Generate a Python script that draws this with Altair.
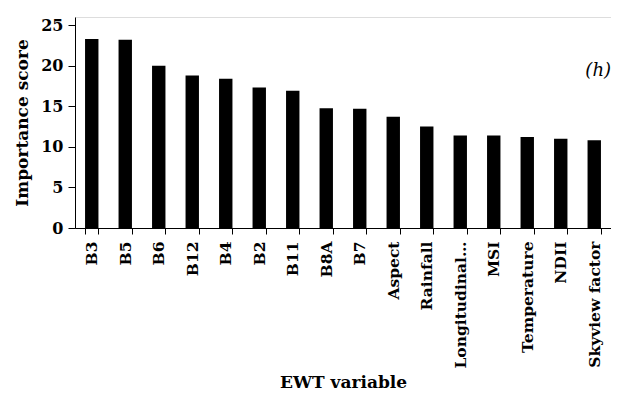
import altair as alt
import pandas as pd

variables = ["B3", "B5", "B6", "B12", "B4", "B2", "B11", "B8A", "B7", "Aspect",
             "Rainfall", "Longitudinal…", "MSI", "Temperature", "NDII", "Skyview factor"]
scores = [23.3, 23.2, 20.0, 18.8, 18.4, 17.3, 16.9, 14.75, 14.7, 13.7,
          12.5, 11.4, 11.4, 11.2, 11.0, 10.8]

df = pd.DataFrame({"variable": variables, "score": scores})

FONT = "DejaVu Serif"

x = alt.X("variable:N", sort=variables, title="EWT variable",
          scale=alt.Scale(paddingInner=0.6, paddingOuter=0.3),
          axis=alt.Axis(labelAngle=-90, labelFont=FONT, labelFontSize=15.5, labelFontWeight="bold",
                        labelColor="black", titleFont=FONT, titleFontSize=17, titleFontWeight="bold",
                        titleColor="black", domainColor="black", tickColor="black", tickBand="extent",
                        tickSize=6, labelPadding=7, titlePadding=6, labelAlign="right",
                        labelBaseline="middle"))
y = alt.Y("score:Q", title="Importance score",
          scale=alt.Scale(domain=[0, 25]),
          axis=alt.Axis(values=[0, 5, 10, 15, 20, 25], grid=False, labelFont=FONT, labelFontSize=16,
                        labelFontWeight="bold", labelColor="black", titleFont=FONT, titleFontSize=17,
                        titleFontWeight="bold", titleColor="black", domainColor="black",
                        tickColor="black", tickSize=7, labelPadding=5, titlePadding=9))

bars = alt.Chart(df).mark_bar(color="black").encode(x=x, y=y)

label = alt.Chart(pd.DataFrame({"t": ["(h)"], "v": [19.4]})).mark_text(
    font=FONT, fontSize=18, fontStyle="italic", align="right", baseline="middle", color="black"
).encode(x=alt.value(536), y=alt.Y("v:Q"), text="t:N")

chart = alt.layer(bars, label).properties(
    width=536, height=211,
    autosize=alt.AutoSizeParams(type="none"),
    padding={"left": 67, "top": 9, "right": 0, "bottom": 166},
).configure_view(stroke=None).configure(background="white")

chart.save("out.html", embed_options={"renderer": "svg", "actions": False})
